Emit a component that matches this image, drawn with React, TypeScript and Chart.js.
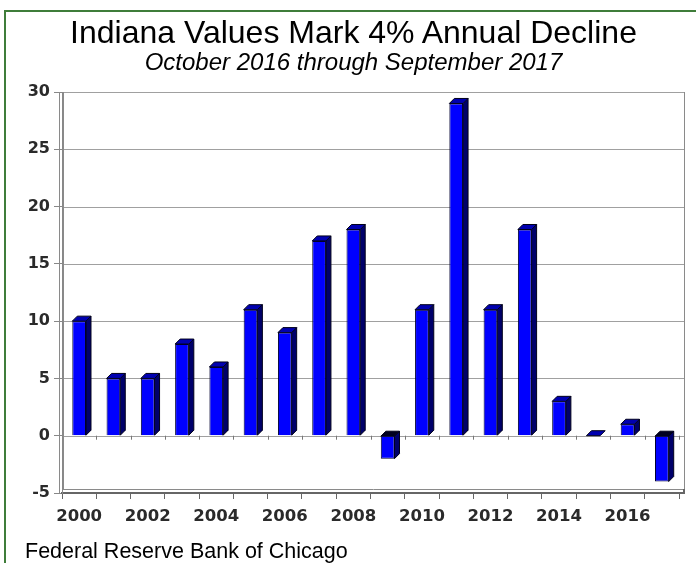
import React, { useEffect, useRef } from "react";
import { Chart, registerables } from "chart.js";

Chart.register(...registerables);

const years: string[] = ["2000","2001","2002","2003","2004","2005","2006","2007","2008","2009","2010","2011","2012","2013","2014","2015","2016","2017"];
const changes: number[] = [10, 5, 5, 8, 6, 11, 9, 17, 18, -2, 11, 29, 11, 18, 3, 0, 1, -4];
const yTickMin = -5;
const yTickMax = 30;
const yTickStep = 5;

const TITLE = "Indiana Values Mark 4% Annual Decline";
const SUBTITLE = "October 2016 through September 2017";
const SOURCE = "Federal Reserve Bank of Chicago";

const DEPTH = 6;

const bar3d = {
  id: "bar3d",
  afterDatasetsDraw(chart: any) {
    const ctx = chart.ctx;
    const meta = chart.getDatasetMeta(0);
    const d = 5;
    ctx.save();
    meta.data.forEach((el: any) => {
      const p = el.getProps(["x", "y", "base", "width"], true);
      const l = p.x - p.width / 2;
      const r = p.x + p.width / 2;
      const top = Math.min(p.y, p.base);
      const bot = Math.max(p.y, p.base);
      ctx.lineWidth = 1;
      ctx.strokeStyle = "#00001a";
      if (bot > top) {
        ctx.beginPath();
        ctx.moveTo(r, top);
        ctx.lineTo(r + d, top - d);
        ctx.lineTo(r + d, bot - d);
        ctx.lineTo(r, bot);
        ctx.closePath();
        ctx.fillStyle = "#00006a";
        ctx.fill();
        ctx.stroke();
      }
      ctx.beginPath();
      ctx.moveTo(l, top);
      ctx.lineTo(l + d, top - d);
      ctx.lineTo(r + d, top - d);
      ctx.lineTo(r, top);
      ctx.closePath();
      ctx.fillStyle = p.y > p.base ? "#000020" : "#0000b0";
      ctx.fill();
      ctx.stroke();
    });
    ctx.restore();
  },
};

const walls = {
  id: "walls",
  beforeDatasetsDraw(chart: any) {
    const ctx = chart.ctx;
    const a = chart.chartArea;
    const xs = chart.scales.x;
    const ys = chart.scales.y;
    ctx.save();
    ctx.lineWidth = 1;
    ctx.strokeStyle = "#a0a0a0";
    ctx.beginPath();
    ys.ticks.forEach((t: any) => {
      const py = Math.round(ys.getPixelForValue(t.value)) + 0.5;
      if (t.value === yTickMin) return;
      ctx.moveTo(a.left + 1, py);
      ctx.lineTo(a.right + DEPTH, py);
    });
    ctx.stroke();
    ctx.strokeStyle = "#8a8a8a";
    ctx.beginPath();
    ctx.moveTo(a.left - 2.5, a.top);
    ctx.lineTo(a.left - 2.5, a.bottom);
    ctx.moveTo(a.left + 1.5, a.top);
    ctx.lineTo(a.left + 1.5, a.bottom - 3);
    ctx.moveTo(a.left, a.bottom - 3.5);
    ctx.lineTo(a.right + DEPTH, a.bottom - 3.5);
    ctx.moveTo(a.right + DEPTH - 0.5, a.top);
    ctx.lineTo(a.right + DEPTH - 0.5, a.bottom - 3);
    ctx.stroke();
    ctx.strokeStyle = "#666";
    ctx.lineWidth = 2;
    ctx.beginPath();
    ctx.moveTo(a.right, a.bottom);
    ctx.lineTo(a.right + DEPTH - 1, a.bottom);
    ctx.lineTo(a.right + DEPTH - 1, a.bottom - 4);
    ctx.stroke();
    const y0 = ys.getPixelForValue(0);
    const n = years.length;
    const step = (a.right - a.left) / n;
    ctx.lineWidth = 1;
    ctx.strokeStyle = "#777";
    ctx.beginPath();
    for (let i = 1; i <= n; i++) {
      const bx = xs.getPixelForValue(i - 1) + step / 2;
      const px = Math.round(bx) + 0.5;
      ctx.moveTo(px, y0);
      ctx.lineTo(px, y0 + 4);
    }
    ctx.stroke();
    ctx.restore();
  },
};

export default function App() {
  const ref = useRef<HTMLCanvasElement | null>(null);
  useEffect(() => {
    if (!ref.current) return;
    const chart = new Chart(ref.current, {
      type: "bar",
      data: {
        labels: years,
        datasets: [
          {
            data: changes,
            backgroundColor: "#0000ff",
            borderColor: "#000030",
            borderWidth: 1,
            barPercentage: 0.4,
            categoryPercentage: 1,
          },
        ],
      },
      options: {
        animation: false,
        responsive: false,
        maintainAspectRatio: false,
        layout: { padding: { left: 0, right: 17, top: 92, bottom: 30 } },
        plugins: {
          legend: { display: false },
          tooltip: { enabled: false },
          title: { display: false },
        },
        scales: {
          x: {
            afterFit: (s: any) => { s.height = 40; },
            grid: {
              offset: true,
              drawOnChartArea: false,
              drawTicks: true,
              tickLength: 6,
              color: "#666",
            },
            border: { display: true, color: "#666", width: 2 },
            ticks: {
              autoSkip: false,
              maxRotation: 0,
              minRotation: 0,
              padding: 8,
              color: "#2a2a2a",
              font: { family: "'DejaVu Sans'", size: 16.5, weight: "bold" },
              callback: (_v: any, i: number) => (i % 2 === 0 ? years[i] : ""),
            },
          },
          y: {
            min: yTickMin,
            max: yTickMax,
            afterFit: (s: any) => { s.width = 62; },
            grid: {
              drawOnChartArea: false,
              color: "#888",
              lineWidth: 1,
              drawTicks: true,
              tickLength: 8,
            },
            border: { display: true, color: "#888", width: 1 },
            ticks: {
              stepSize: yTickStep,
              padding: 4,
              color: "#2a2a2a",
              font: { family: "'DejaVu Sans'", size: 16, weight: "bold" },
            },
          },
        },
      },
      plugins: [walls, bar3d],
    });
    return () => chart.destroy();
  }, []);

  return (
    <div style={{ position: "absolute", left: 0, top: 0, width: 696, height: 563, background: "#fff", overflow: "hidden", fontFamily: "'Liberation Sans', Arial, sans-serif" }}>
      <div style={{ position: "absolute", left: 4, top: 10, width: 700, height: 600, borderLeft: "2px solid #3f7d3a", borderTop: "2px solid #3f7d3a", boxSizing: "border-box" }} />
      <canvas ref={ref} width={696} height={563} style={{ position: "absolute", left: 0, top: 0, width: 696, height: 563 }} />
      <div style={{ position: "absolute", left: 353.5, top: 16, transform: "translateX(-50%)", whiteSpace: "nowrap", fontSize: 32, lineHeight: "32px", color: "#000" }}>{TITLE}</div>
      <div style={{ position: "absolute", left: 353.5, top: 50, transform: "translateX(-50%)", whiteSpace: "nowrap", fontSize: 24, lineHeight: "24px", fontStyle: "italic", color: "#000" }}>{SUBTITLE}</div>
      <div style={{ position: "absolute", left: 25, top: 541, whiteSpace: "nowrap", fontSize: 21.5, lineHeight: "21.5px", color: "#000" }}>{SOURCE}</div>
    </div>
  );
}
